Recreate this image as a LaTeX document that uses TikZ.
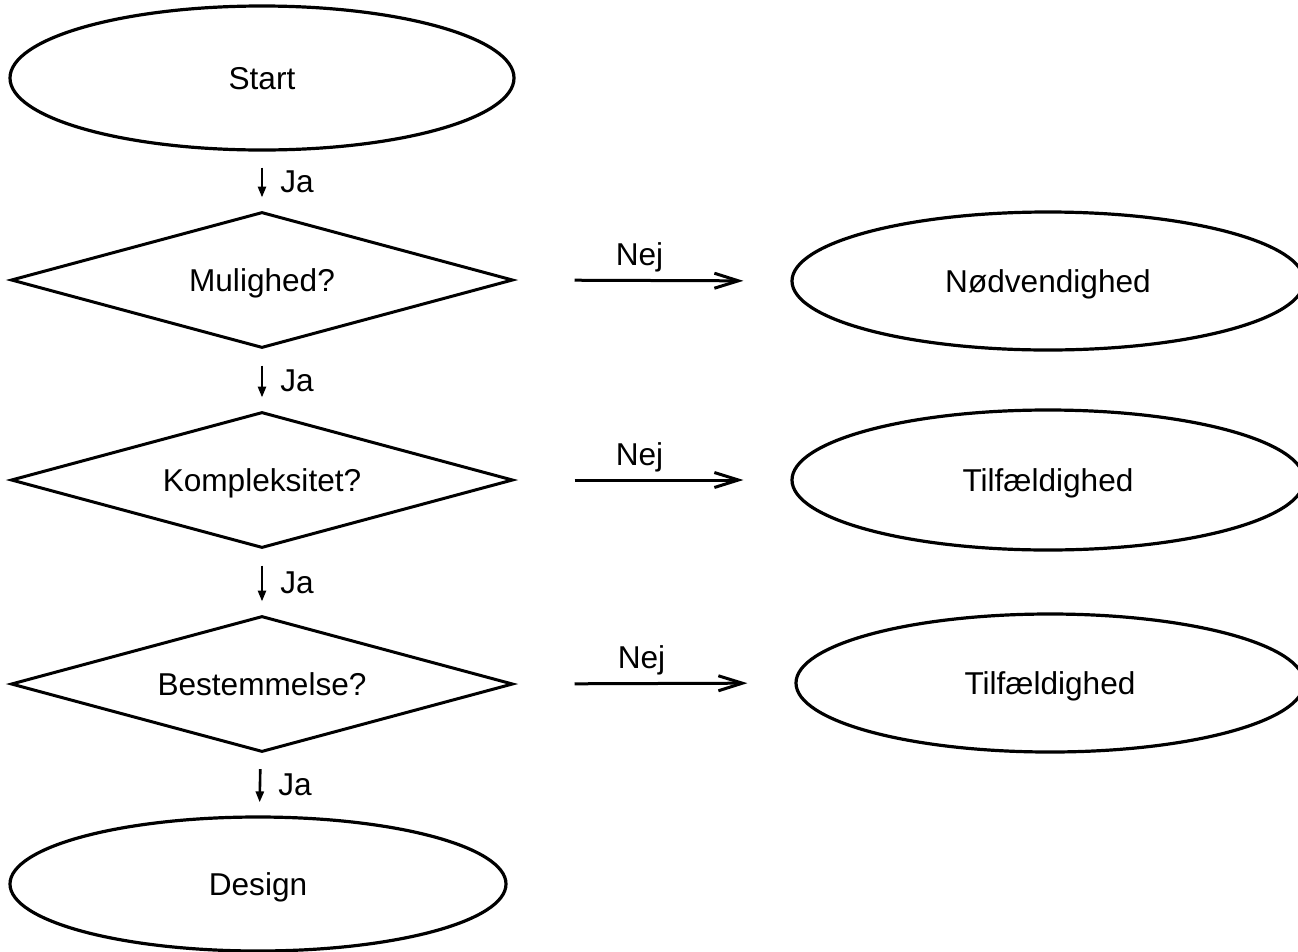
\documentclass[tikz,border=0pt]{standalone}
\usepackage{fontspec}
\setmainfont{Liberation Sans}
\usetikzlibrary{shapes.geometric,arrows.meta}
\begin{document}
\begin{tikzpicture}[x=1pt,y=-1pt,
  every node/.style={font=\fontsize{31.6}{37}\selectfont, text height=22.6pt, text depth=0pt},
  term/.style={draw, line width=3.2pt, ellipse, inner sep=0pt},
  decide/.style={draw, line width=3pt, diamond, aspect=3.7, inner sep=0pt, minimum width=502pt, minimum height=136pt},
  yes/.style={line width=2.6pt, -{Triangle[length=11pt,width=8pt]}, shorten <=16pt, shorten >=13pt},
  no/.style={line width=3pt, -{Straight Barb[length=24pt,width=15pt]}, shorten <=60pt, shorten >=47pt},
  lbl/.style={inner sep=0pt}]
\useasboundingbox (0,0) rectangle (1298,951);
\node[term, minimum width=504pt, minimum height=144pt] (start) at (262,78) {Start};
\node[decide] (mul) at (262,280) {Mulighed?};
\node[decide] (kom) at (262,480) {Kompleksitet?};
\node[decide] (best) at (262,684) {Bestemmelse?};
\node[term, minimum width=496pt, minimum height=134pt] (design) at (258,884) {Design};
\node[term, minimum width=512pt, minimum height=138pt] (nod) at (1048,281) {Nødvendighed};
\node[term, minimum width=512pt, minimum height=140pt] (til1) at (1048,480) {Tilfældighed};
\node[term, minimum width=508pt, minimum height=138pt] (til2) at (1050,683) {Tilfældighed};
\draw[yes] (start) -- node[lbl, midway, anchor=west, xshift=17pt] {Ja} (mul);
\draw[yes] (mul) -- node[lbl, midway, anchor=west, xshift=17pt] {Ja} (kom);
\draw[yes] (kom) -- node[lbl, midway, anchor=west, xshift=17pt] {Ja} (best);
\draw[yes] (best) -- node[lbl, midway, anchor=west, xshift=17pt] {Ja} (design);
\draw[no] (mul.east) -- node[lbl, midway, xshift=-13pt, yshift=26pt] {Nej} (nod.west);
\draw[no] (kom.east) -- node[lbl, midway, xshift=-13pt, yshift=26pt] {Nej} (til1.west);
\draw[no] (best.east) -- node[lbl, midway, xshift=-13pt, yshift=26pt] {Nej} (til2.west);
\end{tikzpicture}
\end{document}
